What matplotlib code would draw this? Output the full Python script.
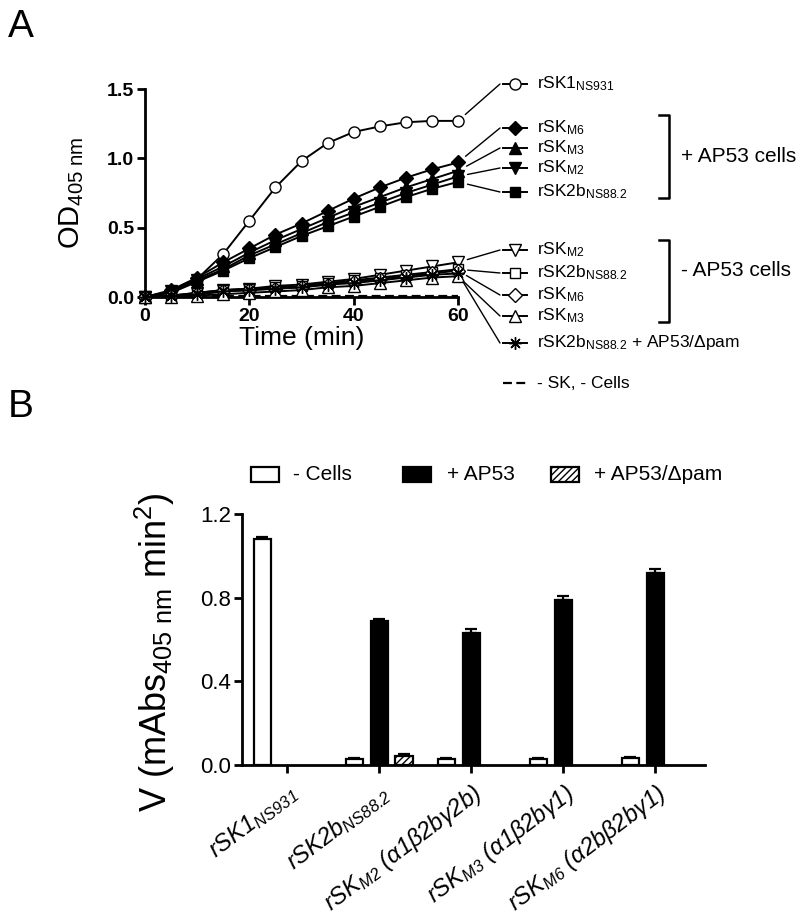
import numpy as np
import matplotlib
matplotlib.use('Agg')
import matplotlib.pyplot as plt
from matplotlib.lines import Line2D
from matplotlib.patches import Rectangle
from matplotlib.ticker import FormatStrFormatter

plt.rcParams['font.family'] = ['Liberation Sans', 'DejaVu Sans']
plt.rcParams['mathtext.fontset'] = 'custom'
plt.rcParams['mathtext.rm'] = 'Liberation Sans'
plt.rcParams['mathtext.it'] = 'Liberation Sans:italic'
plt.rcParams['mathtext.bf'] = 'Liberation Sans:bold'
plt.rcParams['mathtext.default'] = 'regular'
plt.rcParams['hatch.linewidth'] = 1.0

# ---- panel A data: OD405 vs time ----
time = [0, 5, 10, 15, 20, 25, 30, 35, 40, 45, 50, 55, 60]
sk1_ns931 = [0, 0.04, 0.13, 0.31, 0.55, 0.79, 0.98, 1.11, 1.19, 1.23, 1.26, 1.27, 1.27]
m6_pos = [0, 0.05, 0.14, 0.25, 0.35, 0.45, 0.53, 0.62, 0.71, 0.79, 0.86, 0.92, 0.97]
m3_pos = [0, 0.04, 0.13, 0.22, 0.32, 0.41, 0.49, 0.57, 0.65, 0.72, 0.79, 0.85, 0.91]
m2_pos = [0, 0.04, 0.12, 0.20, 0.30, 0.38, 0.46, 0.54, 0.61, 0.68, 0.75, 0.81, 0.87]
sk2b_pos = [0, 0.03, 0.11, 0.19, 0.28, 0.36, 0.44, 0.51, 0.58, 0.65, 0.72, 0.78, 0.83]
m2_neg = [0, 0.01, 0.03, 0.05, 0.06, 0.08, 0.09, 0.11, 0.13, 0.16, 0.19, 0.22, 0.25]
sk2b_neg = [0, 0.01, 0.03, 0.05, 0.06, 0.07, 0.08, 0.10, 0.12, 0.14, 0.16, 0.18, 0.20]
m6_neg = [0, 0.01, 0.02, 0.04, 0.05, 0.06, 0.07, 0.09, 0.11, 0.13, 0.15, 0.17, 0.19]
m3_neg = [0, 0.00, 0.01, 0.02, 0.03, 0.04, 0.05, 0.07, 0.08, 0.10, 0.12, 0.14, 0.15]
sk2b_pam = [0, 0.01, 0.02, 0.04, 0.05, 0.06, 0.07, 0.09, 0.10, 0.12, 0.14, 0.16, 0.17]
no_sk = [0.01] * 13

# ---- panel B data: rates ----
groups = ['rSK1$_{NS931}$', 'rSK2b$_{NS88.2}$', 'rSK$_{M2}$ (α1β2bγ2b)',
          'rSK$_{M3}$ (α1β2bγ1)', 'rSK$_{M6}$ (α2bβ2bγ1)']
no_cells = [1.08, 0.03, 0.03, 0.03, 0.035]
no_cells_err = [0.01, 0.003, 0.003, 0.003, 0.003]
ap53 = [None, 0.69, 0.63, 0.79, 0.92]
ap53_err = [None, 0.006, 0.02, 0.02, 0.015]
ap53_pam = [None, 0.045, None, None, None]
ap53_pam_err = [None, 0.006, None, None, None]

W, H = 800, 923
fig = plt.figure(figsize=(W / 100, H / 100), dpi=100)


def fx(x):
    return x / W


def fy(y):
    return 1 - y / H


def style_axes(ax):
    for s in ['top', 'right']:
        ax.spines[s].set_visible(False)
    for s in ['left', 'bottom']:
        ax.spines[s].set_linewidth(2)
    ax.tick_params(direction='out', length=6, width=2)


# ================= Panel A =================
axA = fig.add_axes([fx(145), fy(297), 313 / W, 208 / H])
style_axes(axA)
axA.set_xlim(0, 60)
axA.set_ylim(0, 1.5)
axA.set_xticks([0, 20, 40, 60])
axA.set_yticks([0, 0.5, 1.0, 1.5])
axA.yaxis.set_major_formatter(FormatStrFormatter('%.1f'))
axA.tick_params(labelsize=14, pad=2)
for lbl in axA.get_xticklabels() + axA.get_yticklabels():
    lbl.set_fontweight('bold')

# (values, marker, filled, size, label, legend y in px)
series = [
    (sk1_ns931, 'o', False, 8, 'rSK1$_{NS931}$', 84),
    (m6_pos, 'D', True, 7, 'rSK$_{M6}$', 128),
    (m3_pos, '^', True, 8, 'rSK$_{M3}$', 148),
    (m2_pos, 'v', True, 8, 'rSK$_{M2}$', 168),
    (sk2b_pos, 's', True, 7, 'rSK2b$_{NS88.2}$', 192),
    (m2_neg, 'v', False, 8, 'rSK$_{M2}$', 250),
    (sk2b_neg, 's', False, 7, 'rSK2b$_{NS88.2}$', 273),
    (m6_neg, 'D', False, 7, 'rSK$_{M6}$', 295),
    (m3_neg, '^', False, 8, 'rSK$_{M3}$', 316),
    (sk2b_pam, (8, 2, 0), True, 9, 'rSK2b$_{NS88.2}$ + AP53/Δpam', 343),
]

for vals, mk, filled, ms, label, ly in series:
    fc = 'black' if filled else 'white'
    axA.plot(time, vals, color='black', lw=1.4, marker=mk, ms=ms,
             mfc=fc, mec='black', mew=1.0, clip_on=False, zorder=3)
    # leader line from the last point to the label
    axA.annotate('', xy=(fx(500), fy(ly)), xycoords='figure fraction',
                 xytext=(time[-1], vals[-1]), textcoords='data',
                 arrowprops=dict(arrowstyle='-', lw=1.0, color='black',
                                 shrinkA=7, shrinkB=0),
                 annotation_clip=False)
    fig.add_artist(Line2D([fx(503), fx(515), fx(527)], [fy(ly)] * 3,
                          transform=fig.transFigure, color='black', lw=1.4,
                          marker=mk, ms=ms, mfc=fc, mec='black', mew=1.0,
                          markevery=[1]))
    fig.text(fx(537), fy(ly), label, fontsize=12.5, va='center', ha='left')

axA.plot(time, no_sk, color='black', lw=1.6, ls=(0, (4, 2)), clip_on=False,
         zorder=2)
fig.add_artist(Line2D([fx(503), fx(527)], [fy(383)] * 2,
                      transform=fig.transFigure, color='black', lw=1.6,
                      ls=(0, (4, 2))))
fig.text(fx(537), fy(383), '- SK, - Cells', fontsize=12.5, va='center')

# brackets
for top, bot, txt, ty in [(115, 198, '+ AP53 cells', 157),
                          (240, 322, '- AP53 cells', 271)]:
    fig.add_artist(Line2D([fx(659), fx(669), fx(669), fx(659)],
                          [fy(top), fy(top), fy(bot), fy(bot)],
                          transform=fig.transFigure, color='black', lw=1.8))
    fig.text(fx(681), fy(ty), txt, fontsize=15, va='center')

axA.set_ylabel('OD$_{405\\ nm}$', fontsize=21)
axA.yaxis.set_label_coords(-0.19, 0.5)
axA.set_xlabel('Time (min)', fontsize=19)
axA.xaxis.set_label_coords(0.5, -0.14)

fig.text(fx(8), fy(37), 'A', fontsize=28, va='baseline')

# ================= Panel B =================
axB = fig.add_axes([fx(242), fy(765), 463 / W, 251 / H])
style_axes(axB)
axB.set_xlim(-0.49, 4.54)
axB.set_ylim(0, 1.2)
axB.set_yticks([0, 0.4, 0.8, 1.2])
axB.yaxis.set_major_formatter(FormatStrFormatter('%.1f'))
axB.tick_params(axis='y', labelsize=16, pad=2)

x = np.arange(len(groups))
bw = 0.185
off = 0.27


def draw_bars(pos, vals, errs, **kw):
    idx = [i for i, v in enumerate(vals) if v is not None]
    xs = [pos[i] for i in idx]
    ys = [vals[i] for i in idx]
    es = [errs[i] for i in idx]
    axB.bar(xs, ys, width=bw, edgecolor='black', linewidth=1.6, zorder=3, **kw)
    axB.errorbar(xs, ys, yerr=[np.zeros(len(es)), es], fmt='none',
                 ecolor='black', elinewidth=1.6, capsize=4, capthick=1.6,
                 zorder=2)


draw_bars(x - off, no_cells, no_cells_err, color='white')
draw_bars(x, ap53, ap53_err, color='black')
draw_bars(x + off, ap53_pam, ap53_pam_err, color='white', hatch='/////')

axB.set_xticks(x)
axB.set_xticklabels(groups, rotation=37, ha='right', rotation_mode='anchor',
                    fontsize=17, fontstyle='italic')
axB.tick_params(axis='x', pad=5)

axB.set_ylabel('V (mAbs$_{405\\ nm}$ min$^{2}$)', fontsize=26)
axB.yaxis.set_label_coords(-0.14, 0.45)

# legend of panel B
leg_items = [(251, 'white', None, '- Cells', 293),
             (403, 'black', None, '+ AP53', 447),
             (551, 'white', '/////', '+ AP53/Δpam', 594)]
for lx, fc, hatch, txt, tx in leg_items:
    fig.add_artist(Rectangle((fx(lx), fy(482)), 28 / W, 15 / H,
                             transform=fig.transFigure, facecolor=fc,
                             edgecolor='black', linewidth=1.6, hatch=hatch))
    fig.text(fx(tx), fy(474), txt, fontsize=15, va='center')

fig.text(fx(8), fy(417), 'B', fontsize=28, va='baseline')

fig.savefig('out.png', dpi=100)
